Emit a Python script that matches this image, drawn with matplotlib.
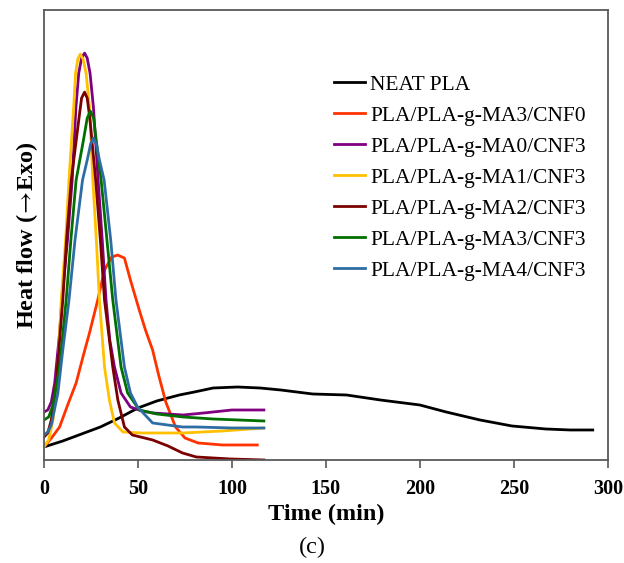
import matplotlib
matplotlib.use("Agg")
import matplotlib.pyplot as plt

plt.rcParams['font.family'] = ['Liberation Serif', 'DejaVu Serif']
plt.rcParams['mathtext.fontset'] = 'stix'

# tiempo (min) y flujo de calor (unidades arbitrarias)
t_neat = [0, 10, 20, 30, 40, 50, 60, 72, 80, 90, 103, 115, 126, 143, 161, 179, 200, 214, 232, 249, 267, 280, 292]
y_neat = [13, 19, 26, 33, 42, 52, 59, 65, 68, 72, 73, 72, 70, 66, 65, 60, 55, 48, 40, 34, 31, 30, 30]

t_ma3_cnf0 = [0, 4, 8.3, 12.6, 17.1, 21, 24.2, 28.6, 32.2, 36, 39.2, 42.8, 46, 50.7, 54, 57.8, 61, 64.8, 70, 75, 82, 95, 113.5]
y_ma3_cnf0 = [13, 22, 33, 55, 77, 105, 127, 160, 190, 203, 205, 202, 180, 150, 130, 110, 85, 58, 33, 22, 17, 15, 15]

t_ma0 = [0, 2, 3.9, 5.7, 8.3, 9.5, 12.5, 15, 17, 18.5, 20, 21.6, 23, 24.5, 26.3, 28.8, 31, 33, 35, 37.5, 41, 46, 52, 58, 74, 85, 100, 117]
y_ma0 = [48, 50, 58, 77, 127, 160, 220, 280, 353, 387, 402, 407, 402, 387, 353, 280, 220, 160, 120, 93, 67, 53, 49, 47, 45, 47, 50, 50]

t_ma1 = [0, 2.5, 4.8, 7.4, 9.2, 11.5, 13.3, 15.8, 16.8, 18, 19.3, 20.8, 22.4, 24.2, 26, 28, 29.5, 32.2, 34.8, 37.5, 42, 52, 74, 95, 117]
y_ma1 = [13, 20, 40, 93, 160, 220, 280, 353, 387, 401, 406, 401, 387, 353, 280, 215, 160, 93, 60, 37, 28, 27, 27, 29, 32]

t_ma2 = [0, 2, 3.9, 6.5, 10, 12, 14.5, 18.5, 20, 21.6, 23, 24.5, 27.5, 30, 32.2, 36.6, 39.3, 42.8, 47, 57.8, 66, 73.7, 81, 99, 117]
y_ma2 = [23, 27, 40, 77, 160, 220, 280, 340, 362, 368, 362, 340, 280, 220, 160, 93, 60, 33, 25, 20, 14, 7, 3, 1, 0]

t_ma3 = [0, 2.5, 4.8, 8.3, 11.8, 14.3, 17.1, 21, 23, 24.7, 26.4, 27.8, 30.4, 33.5, 36.6, 41, 44.5, 50.7, 60, 74, 90, 117]
y_ma3 = [40, 43, 55, 93, 160, 220, 280, 320, 342, 349, 342, 320, 280, 220, 160, 93, 67, 50, 46, 43, 41, 39]

t_ma4 = [0, 2, 3.9, 7.4, 10, 13.3, 16.5, 20.5, 23, 24.8, 26.3, 27.9, 29.5, 32, 35.5, 38.3, 42.8, 46, 49.8, 57.8, 73.7, 81, 100, 117]
y_ma4 = [25, 28, 35, 67, 110, 160, 220, 280, 300, 316, 322, 316, 300, 280, 220, 160, 93, 67, 53, 37, 33, 33, 32, 32]

labels = ['NEAT PLA', 'PLA/PLA-g-MA3/CNF0', 'PLA/PLA-g-MA0/CNF3', 'PLA/PLA-g-MA1/CNF3',
          'PLA/PLA-g-MA2/CNF3', 'PLA/PLA-g-MA3/CNF3', 'PLA/PLA-g-MA4/CNF3']
colores = ['#000000', '#FF3300', '#800080', '#FFC000', '#7B0000', '#007000', '#2E6DA4']
series = [(t_neat, y_neat), (t_ma3_cnf0, y_ma3_cnf0), (t_ma0, y_ma0), (t_ma1, y_ma1),
          (t_ma2, y_ma2), (t_ma3, y_ma3), (t_ma4, y_ma4)]

fig = plt.figure(figsize=(6.24, 5.63), dpi=100)
ax = fig.add_axes([0.0705, 0.183, 0.9035, 0.799])

for (t, y), c, lab in zip(series, colores, labels):
    ax.plot(t, y, color=c, lw=2, label=lab)

ax.set_xlim(0, 300)
ax.set_ylim(0, 450)
ax.set_xticks([0, 50, 100, 150, 200, 250, 300])
ax.set_yticks([])
ax.tick_params(axis='x', direction='out', length=6, width=1.2, color='#595959',
               labelsize=14.5, pad=8)
for lbl in ax.get_xticklabels():
    lbl.set_fontweight('bold')
for s in ax.spines.values():
    s.set_color('#595959')
    s.set_linewidth(1.3)

ax.set_xlabel('Time (min)', fontsize=17.5, fontweight='bold', labelpad=3)
ax.set_ylabel(r'Heat flow ($\!\rightarrow\!$Exo)', fontsize=17.5, fontweight='bold', labelpad=3)

ax.legend(loc='upper left', bbox_to_anchor=(0.514, 0.857), frameon=False, fontsize=15.5,
          handlelength=1.45, handletextpad=0.25, labelspacing=0.51, borderpad=0,
          borderaxespad=0)

fig.text(0.5, 0.0284, '(c)', fontsize=17.5, ha='center', va='center')

fig.savefig('out.png', dpi=100)
